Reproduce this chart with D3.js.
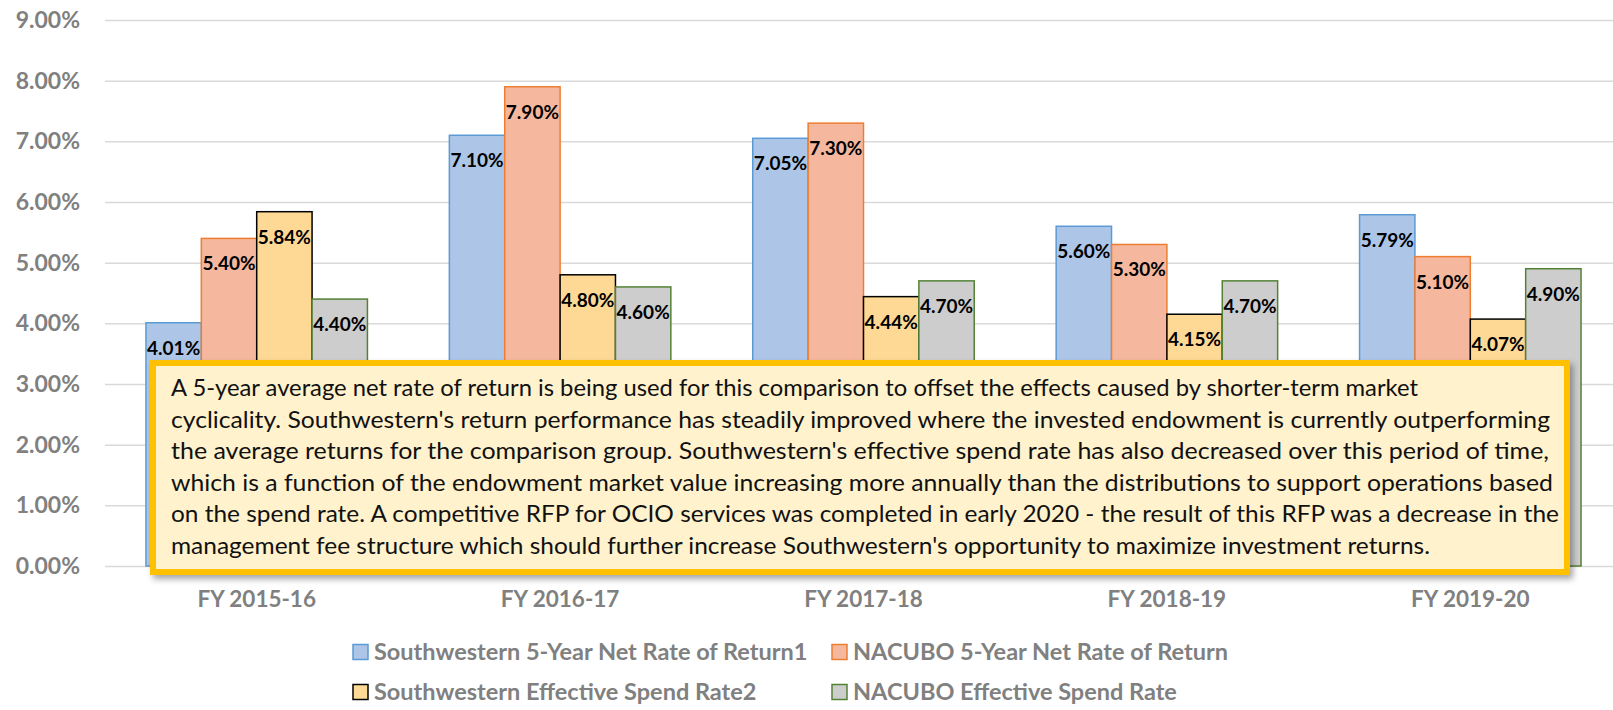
<!doctype html>
<html>
  <head>
    <script src="https://cdnjs.cloudflare.com/ajax/libs/d3/7.8.5/d3.min.js"></script>
  <style>
    body { margin: 0; background: #fff; }
    svg { display: block; font-family: Lato, "Open Sans", sans-serif; }
    svg text { font-family: Lato, "Open Sans", sans-serif; }
    path.domain { stroke: none; }
    .grid .tick > line { stroke: #d9d9d9; stroke-width: 1.5; }
    .grid .tick > text, .xaxis .tick > text {
      fill: #808080; font-weight: bold;
    }
    .grid .tick > text { font-size: 23px; }
    .xaxis .tick > text { font-size: 22.5px; }
    .bar { stroke-width: 1.5; }
    .lbl { font-size: 19px; font-weight: bold; fill: #000; text-anchor: middle; }
    .legend text { font-size: 23.5px; font-weight: bold; fill: #808080; }
    .note text { font-size: 24px; fill: #111; }
  </style>
  </head>
  <body>
    <svg width="1613" height="710"></svg>
    <script>
      var years = ["FY 2015-16", "FY 2016-17", "FY 2017-18", "FY 2018-19", "FY 2019-20"];
      var seriesNames = [
        "Southwestern 5-Year Net Rate of Return1",
        "NACUBO 5-Year Net Rate of Return",
        "Southwestern Effective Spend Rate2",
        "NACUBO Effective Spend Rate"
      ];
      var swReturn = [4.01, 7.10, 7.05, 5.60, 5.79];
      var nacuboReturn = [5.40, 7.90, 7.30, 5.30, 5.10];
      var swSpend = [5.84, 4.80, 4.44, 4.15, 4.07];
      var nacuboSpend = [4.40, 4.60, 4.70, 4.70, 4.90];
      var yTicks = [0, 1, 2, 3, 4, 5, 6, 7, 8, 9];
      var noteLines = [
        "A 5-year average net rate of return is being used for this comparison to offset the effects caused by shorter-term market",
        "cyclicality. Southwestern's return performance has steadily improved where the invested endowment is currently outperforming",
        "the average returns for the comparison group. Southwestern's effective spend rate has also decreased over this period of time,",
        "which is a function of the endowment market value increasing more annually than the distributions to support operations based",
        "on the spend rate. A competitive RFP for OCIO services was completed in early 2020 - the result of this RFP was a decrease in the",
        "management fee structure which should further increase Southwestern's opportunity to maximize investment returns."
      ];
      // rendered width of each note line in the reference
      var noteWidths = [1247, 1379, 1378, 1382, 1388, 1259];

      var fills = ["#adc6e8", "#f5b89e", "#fed995", "#cdcdcd"];
      var strokes = ["#5b9bd5", "#ed7d31", "#000000", "#548235"];
      var allSeries = [swReturn, nacuboReturn, swSpend, nacuboSpend];

      var svg = d3.select("svg");
      var plotLeft = 105, plotRight = 1622, plotTop = 20, plotBottom = 566;

      var xScale = d3.scaleBand().domain(years).range([plotLeft, plotRight])
        .paddingInner(0.27).paddingOuter(0.135);
      var x1 = d3.scaleBand().domain(d3.range(seriesNames.length))
        .range([0, xScale.bandwidth()]);
      var yScale = d3.scaleLinear().domain([0, 9]).range([plotBottom, plotTop]);

      var yAxis = d3.axisLeft(yScale)
        .tickValues(yTicks)
        .tickSize(-(1613 - plotLeft))
        .tickPadding(25)
        .tickFormat(d => d.toFixed(2) + "%");
      svg.append("g").attr("class", "grid")
        .attr("transform", `translate(${plotLeft},0)`).call(yAxis);

      var xAxis = d3.axisBottom(xScale).tickSize(0).tickPadding(25);
      svg.append("g").attr("class", "xaxis")
        .attr("transform", `translate(0,${plotBottom})`).call(xAxis);

      var rows = [];
      years.forEach((yr, i) => {
        allSeries.forEach((s, j) => rows.push({ year: yr, s: j, v: s[i] }));
      });

      var bars = svg.append("g");
      bars.selectAll("rect").data(rows).enter().append("rect")
        .attr("class", "bar")
        .attr("x", d => xScale(d.year) + x1(d.s))
        .attr("width", x1.bandwidth())
        .attr("y", d => yScale(d.v))
        .attr("height", d => yScale(0) - yScale(d.v))
        .attr("fill", d => fills[d.s])
        .attr("stroke", d => strokes[d.s]);

      bars.selectAll("text").data(rows).enter().append("text")
        .attr("class", "lbl")
        .attr("x", d => xScale(d.year) + x1(d.s) + x1.bandwidth() / 2)
        .attr("y", d => yScale(d.v) + 32)
        .text(d => d.v.toFixed(2) + "%");

      // legend
      var legend = svg.append("g").attr("class", "legend");
      var legX = [353, 832], legY = [652, 692];
      seriesNames.forEach((name, i) => {
        var g = legend.append("g")
          .attr("transform", `translate(${legX[i % 2]},${legY[Math.floor(i / 2)]})`);
        g.append("rect").attr("x", 0).attr("y", -7.5).attr("width", 15).attr("height", 15)
          .attr("fill", fills[i]).attr("stroke", strokes[i]).attr("stroke-width", 1.5);
        g.append("text").attr("x", 21).attr("dy", "0.36em").text(name);
      });

      // note box
      var defs = svg.append("defs");
      var f = defs.append("filter").attr("id", "shadow")
        .attr("x", "-5%").attr("y", "-10%").attr("width", "110%").attr("height", "125%");
      f.append("feDropShadow").attr("dx", 3).attr("dy", 4).attr("stdDeviation", 3)
        .attr("flood-color", "#000").attr("flood-opacity", 0.35);

      var note = svg.append("g").attr("class", "note");
      note.append("rect")
        .attr("x", 153).attr("y", 363).attr("width", 1414).attr("height", 209)
        .attr("fill", "#fff2cc").attr("stroke", "#ffc000").attr("stroke-width", 6)
        .attr("filter", "url(#shadow)");
      note.selectAll("text").data(noteLines).enter().append("text")
        .attr("x", 171)
        .attr("y", (d, i) => 396 + i * 31.6)
        .attr("textLength", (d, i) => noteWidths[i])
        .attr("lengthAdjust", "spacingAndGlyphs")
        .text(d => d);
    </script>
  </body>
</html>
